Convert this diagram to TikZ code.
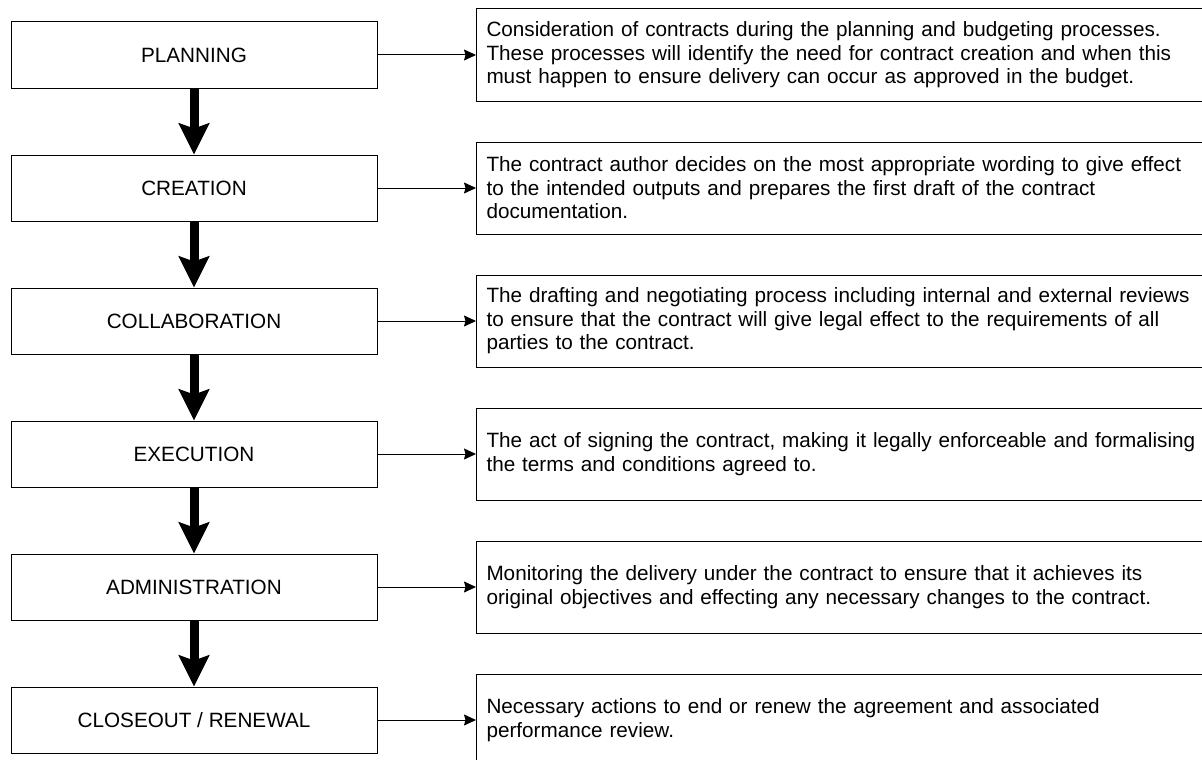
\documentclass[tikz,border=0pt]{standalone}
\usepackage{fontspec}
\setmainfont{Liberation Sans}
\usetikzlibrary{arrows.meta}
\begin{document}
\begin{tikzpicture}[x=1pt,y=-1pt,
  stagebox/.style={draw=black, line width=1pt, fill=white, minimum width=366pt, minimum height=66pt, inner sep=0pt,
    font=\fontsize{20.7}{23.5}\selectfont},
  descbox/.style={draw=black, line width=1pt, fill=white, minimum height=92pt, text width=720pt, inner sep=10pt,
    align=left, anchor=west, font=\fontsize{20.7}{23.5}\selectfont},
  flowarrow/.style={line width=9pt, -{Stealth[length=31pt, width=30pt, inset=5pt]}},
  linkarrow/.style={line width=1pt, -{Stealth[length=12pt, width=11pt, inset=1.5pt]}}
]
\useasboundingbox (0,0) rectangle (1202,760);
\clip (0,0) rectangle (1202,760);
\fill[white] (0,0) rectangle (1202,760);

\node[stagebox] (s1) at (194,55) {PLANNING};
\node[stagebox] (s2) at (194,188) {CREATION};
\node[stagebox] (s3) at (194,321) {COLLABORATION};
\node[stagebox] (s4) at (194,454) {EXECUTION};
\node[stagebox] (s5) at (194,587) {ADMINISTRATION};
\node[stagebox] (s6) at (194,720) {CLOSEOUT / RENEWAL};

\node[descbox] (d1) at (476,55) {Consideration of contracts during the planning and budgeting processes.\\These processes will identify the need for contract creation and when this\\must happen to ensure delivery can occur as approved in the budget.};
\node[descbox] (d2) at (476,188) {The contract author decides on the most appropriate wording to give effect\\to the intended outputs and prepares the first draft of the contract\\documentation.};
\node[descbox] (d3) at (476,321) {The drafting and negotiating process including internal and external reviews\\to ensure that the contract will give legal effect to the requirements of all\\parties to the contract.};
\node[descbox] (d4) at (476,454) {The act of signing the contract, making it legally enforceable and formalising\\the terms and conditions agreed to.};
\node[descbox] (d5) at (476,587) {Monitoring the delivery under the contract to ensure that it achieves its\\original objectives and effecting any necessary changes to the contract.};
\node[descbox] (d6) at (476,720) {Necessary actions to end or renew the agreement and associated\\performance review.};

\foreach \a/\b in {s1/s2,s2/s3,s3/s4,s4/s5,s5/s6}
  \draw[flowarrow] (\a.south) -- (\b.north);
\foreach \i in {1,...,6}
  \draw[linkarrow] (s\i.east) -- (d\i.west);
\end{tikzpicture}
\end{document}
